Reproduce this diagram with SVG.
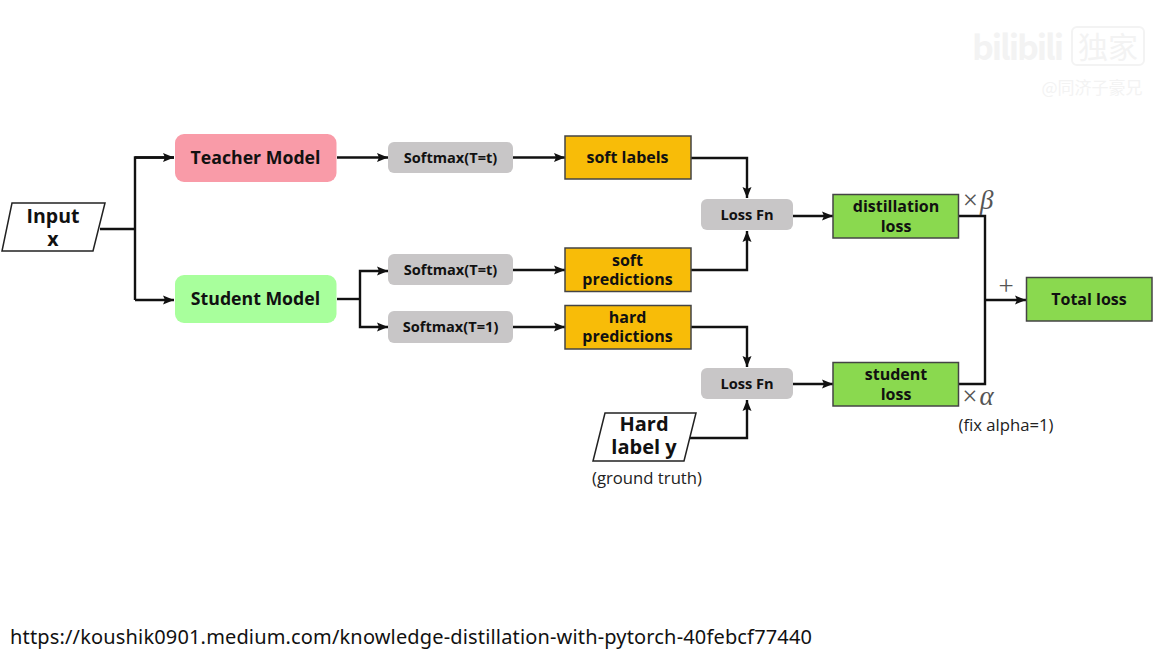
<svg xmlns="http://www.w3.org/2000/svg" width="1168" height="657" viewBox="0 0 1168 657">
<style>
text{font-family:"Open Sans","Noto Sans",sans-serif;text-anchor:middle;fill:#111}
.b{font-weight:700}
.m{font-size:17.700px}
.i{font-size:19.500px}
.s{font-size:14.600px}
.l{font-size:16px}
.p{font-size:20px}
.g{fill:#c8c6c7}
.o{fill:#f8bc08;stroke:#444;stroke-width:1.500}
.n{fill:#8ad94f;stroke:#444;stroke-width:1.500}
.io{fill:#fff;stroke:#222;stroke-width:1.500}
.c{fill:none;stroke:#111;stroke-width:2.400}
.math{font-family:"Liberation Serif",serif;fill:#555;font-size:27px}
.note{font-size:16.700px;fill:#222}
.wm{font-family:"Noto Sans CJK SC",sans-serif;fill:#f3f3f3}
</style>
<defs>
<marker id="a" markerUnits="userSpaceOnUse" markerWidth="12" markerHeight="11" refX="11" refY="5.500" orient="auto"><path d="M0 1L11 5.500L0 10L2 5.500Z" fill="#111"/></marker>
</defs>
<rect width="1168" height="657" fill="#fff"/>
<g id="connectors">
<path class="c" d="M100 229H135"/>
<path class="c" d="M174 157.500H135V300"/>
<path class="c" d="M135 157.500H174" marker-end="url(#a)"/>
<path class="c" d="M135 300H174" marker-end="url(#a)"/>
<path class="c" d="M337 157.500H388" marker-end="url(#a)"/>
<path class="c" d="M337 299H360"/>
<path class="c" d="M360 299V271H388" marker-end="url(#a)"/>
<path class="c" d="M360 299V327H388" marker-end="url(#a)"/>
<path class="c" d="M513 157.500H565" marker-end="url(#a)"/>
<path class="c" d="M513 270H565" marker-end="url(#a)"/>
<path class="c" d="M513 327H565" marker-end="url(#a)"/>
<path class="c" d="M691 158H747V198" marker-end="url(#a)"/>
<path class="c" d="M691 270H747V231" marker-end="url(#a)"/>
<path class="c" d="M691 327H747V367" marker-end="url(#a)"/>
<path class="c" d="M690 438H747V400" marker-end="url(#a)"/>
<path class="c" d="M793 216H833" marker-end="url(#a)"/>
<path class="c" d="M793 384H833" marker-end="url(#a)"/>
<path class="c" d="M959 216H985V384H959"/>
<path class="c" d="M985 300H1026" marker-end="url(#a)"/>
</g>
<g id="input"><path class="io" d="M12 203H105L93 251H2Z"/><text class="b i" x="53" y="222.500">Input</text><text class="b i" x="53" y="245.500">x</text></g>
<g id="teacher"><rect x="175" y="134" width="161.500" height="48" rx="9" fill="#f99ba8"/><text class="b m" x="255.500" y="164">Teacher Model</text></g>
<g id="student"><rect x="175" y="275" width="161.500" height="48" rx="9" fill="#a8ff9c"/><text class="b m" x="255.500" y="305">Student Model</text></g>
<g id="softmax1"><rect class="g" x="388" y="142" width="125" height="31" rx="6"/><text class="b s" x="450.500" y="163">Softmax(T=t)</text></g>
<g id="softmax2"><rect class="g" x="388" y="254" width="125" height="31" rx="6"/><text class="b s" x="450.500" y="275">Softmax(T=t)</text></g>
<g id="softmax3"><rect class="g" x="388" y="311" width="125" height="32" rx="6"/><text class="b s" x="450.500" y="332">Softmax(T=1)</text></g>
<g id="soft-labels"><rect class="o" x="565" y="136" width="126" height="43"/><text class="b l" x="627.500" y="163">soft labels</text></g>
<g id="soft-predictions"><rect class="o" x="565" y="248" width="126" height="43.500"/><text class="b l" x="627.500" y="266">soft</text><text class="b l" x="627.500" y="285">predictions</text></g>
<g id="hard-predictions"><rect class="o" x="565" y="305.500" width="126" height="43.500"/><text class="b l" x="627.500" y="323">hard</text><text class="b l" x="627.500" y="342">predictions</text></g>
<g id="loss1"><rect class="g" x="701" y="199" width="92" height="31" rx="6"/><text class="b s" x="747" y="220">Loss Fn</text></g>
<g id="loss2"><rect class="g" x="701" y="368" width="92" height="31" rx="6"/><text class="b s" x="747" y="389">Loss Fn</text></g>
<g id="hard-label"><path class="io" d="M605 413H696L684 461H593Z"/><text class="b p" x="644" y="431">Hard</text><text class="b p" x="644" y="454">label y</text></g>
<g id="distillation"><rect class="n" x="833" y="194.500" width="125.500" height="43.500"/><text class="b l" x="896" y="212">distillation</text><text class="b l" x="896" y="231.500">loss</text></g>
<g id="student-loss"><rect class="n" x="833" y="362.500" width="125.500" height="43.500"/><text class="b l" x="896" y="380">student</text><text class="b l" x="896" y="399.500">loss</text></g>
<g id="total"><rect class="n" x="1026.500" y="277.500" width="125.500" height="43.500"/><text class="b l" x="1089" y="304.500">Total loss</text></g>
<text class="math" x="978" y="209">×<tspan dx="2" font-style="italic">β</tspan></text>
<text class="math" x="978" y="405">×<tspan dx="2" font-style="italic">α</tspan></text>
<text class="math" x="1006" y="295" font-size="30">+</text>
<text class="note" x="1006" y="431">(fix alpha=1)</text>
<text class="note" x="647" y="484">(ground truth)</text>
<text x="10" y="644" textLength="802" lengthAdjust="spacing" style="text-anchor:start;font-family:'Noto Sans',sans-serif;font-size:20px;fill:#111">https://koushik0901.medium.com/knowledge-distillation-with-pytorch-40febcf77440</text>
<g id="watermark">
<text class="wm" x="1018" y="60" font-size="34" font-weight="700" textLength="92">bilibili</text>
<rect x="1072" y="27" width="72" height="38" rx="5" fill="none" stroke="#f3f3f3" stroke-width="2"/>
<text class="wm" x="1108" y="58" font-size="30">独家</text>
<text class="wm" x="1092" y="94" font-size="17">@同济子豪兄</text>
</g>
</svg>
